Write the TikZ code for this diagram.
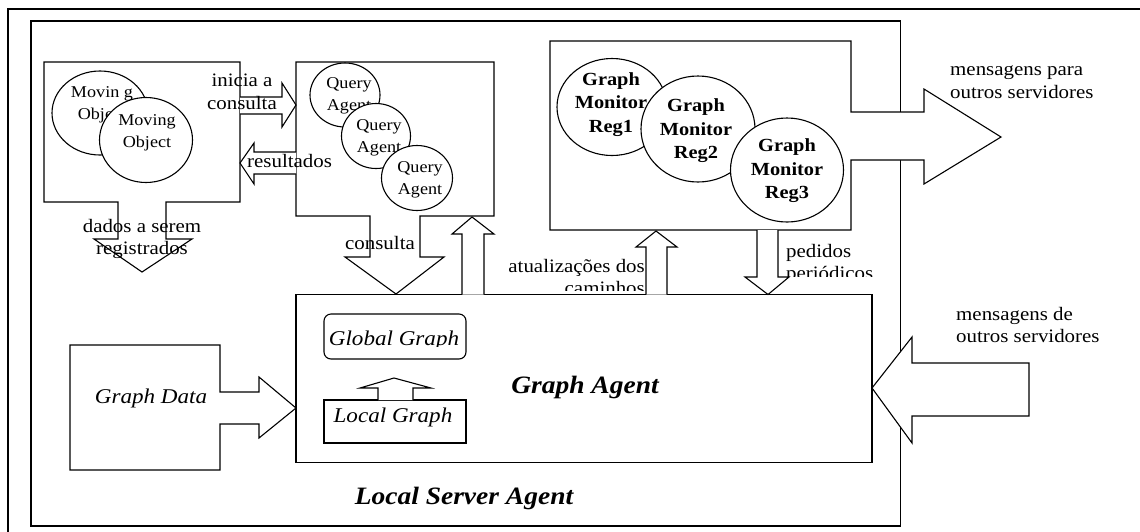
\documentclass[tikz,border=0pt]{standalone}
\usepackage{fontspec}
\setmainfont{Liberation Serif}[FakeStretch=1.1]
\usetikzlibrary{shapes.geometric}
\tikzset{
  ln/.style={line width=1.1pt, line join=miter},
  shp/.style={ln, draw=black, fill=white},
  ell/.style={shp, ellipse, inner sep=0pt},
  txt/.style={inner sep=0pt, font=\fontsize{19}{22.5}\selectfont},
  smalltxt/.style={inner sep=0pt, align=center, font=\fontsize{16.5}{22}\selectfont},
  montxt/.style={inner sep=0pt, align=center, font=\fontsize{18.5}{23.5}\selectfont\bfseries},
  ittxt/.style={inner sep=0pt, font=\fontsize{21}{25}\selectfont\itshape},
  bigtxt/.style={inner sep=0pt, font=\fontsize{25}{30}\selectfont\bfseries\itshape}
}
\begin{document}
\begin{tikzpicture}[x=1pt,y=-1pt]
\useasboundingbox (0,0) rectangle (1140,531);
% frames
\draw[ln] (8,9) rectangle (1160,550);
\draw[ln] (31,21) rectangle (900.5,526);

% moving objects box with down arrow
\draw[shp] (44,62) -- (240,62) -- (240,202) -- (166,202) -- (166,239) -- (192,239)
  -- (142,272) -- (94,239) -- (118,239) -- (118,202) -- (44,202) -- cycle;
\node[ell, minimum width=96pt, minimum height=84pt] (mo1) at (100,113) {};
\node[smalltxt] (mo1t) at (102,105) {Movin g\\Object};
\node[ell, minimum width=93pt, minimum height=85pt] (mo2) at (146,140) {};
\node[smalltxt] (mo2t) at (147,133) {Moving\\Object};

% query box with down arrow
\draw[shp] (296,62) -- (494,62) -- (494,216) -- (420,216) -- (420,257) -- (444,257)
  -- (396,294) -- (345,257) -- (370,257) -- (370,216) -- (296,216) -- cycle;
\node[ell, minimum width=70pt, minimum height=64pt] (qa1) at (345,95) {};
\node[smalltxt] (qa1t) at (349,96) {Query\\Agent};
\node[ell, minimum width=69pt, minimum height=65pt] (qa2) at (376,136) {};
\node[smalltxt] (qa2t) at (379,137.5) {Query\\Agent};
\node[ell, minimum width=71pt, minimum height=65pt] (qa3) at (417,178) {};
\node[smalltxt] (qa3t) at (420,179.5) {Query\\Agent};

% inicia a consulta arrow
\draw[shp] (240,97) -- (282,97) -- (282,83) -- (296,105) -- (282,127) -- (282,114) -- (240,114);
% resultados arrow
\draw[shp] (296,152) -- (254,152) -- (254,143) -- (240,163) -- (254,184) -- (254,174) -- (296,174);

% graph agent box
\draw[shp] (296,294.5) rectangle (872,462.5);
\node[bigtxt] (ga) at (585,387) {Graph Agent};

% up arrow graph agent -> query box
\draw[shp] (462,294.5) -- (462,234) -- (452,234) -- (472,217) -- (494,234) -- (484,234) -- (484,294.5);

% graph monitor box with outgoing arrow
\draw[shp] (550,41) -- (851,41) -- (851,112) -- (924,112) -- (924,89) -- (1001,137)
  -- (924,184) -- (924,160) -- (851,160) -- (851,230) -- (550,230) -- cycle;
\node[ell, minimum width=110pt, minimum height=97pt] (gm1) at (612,107) {};
\node[montxt] (gm1t) at (611,104.5) {Graph\\Monitor\\Reg1};
\node[ell, minimum width=114pt, minimum height=106pt] (gm2) at (698,129) {};
\node[montxt] (gm2t) at (696,131) {Graph\\Monitor\\Reg2};
\node[ell, minimum width=113pt, minimum height=104pt] (gm3) at (787,170) {};
\node[montxt] (gm3t) at (787,171) {Graph\\Monitor\\Reg3};

% atualizacoes up arrow
\draw[shp] (646,294.5) -- (646,247) -- (636,247) -- (656,231) -- (677,247) -- (667,247) -- (667,294.5);
% pedidos down arrow
\draw[shp] (757,230) -- (757,277) -- (745,277) -- (768,294.5) -- (789,277) -- (778,277) -- (778,230);

% graph data box with arrow
\draw[shp] (70,345) -- (220,345) -- (220,392) -- (259,392) -- (259,377) -- (296,408)
  -- (259,438) -- (259,424) -- (220,424) -- (220,470) -- (70,470) -- cycle;
\node[ittxt] (gd) at (151,398) {Graph Data};

% incoming arrow
\draw[shp] (872,388) -- (912,337) -- (912,363) -- (1029,363) -- (1029,416) -- (912,416) -- (912,443) -- cycle;

% global / local graph
\draw[ln, rounded corners=7pt] (324,314) rectangle (466,359);
\begin{scope}
\clip (320,310) rectangle (470,346.5);
\node[ittxt] (gg) at (394,340) {Global Graph};
\end{scope}
\draw[ln] (324,400) rectangle (466,443);
\node[ittxt] (lg) at (393,417) {Local Graph};
\draw[shp] (378,400) -- (378,388) -- (360,388) -- (394,378) -- (431,388) -- (413,388) -- (413,400);

% labels
\node[txt, align=center] (l-inicia) at (242,92) {inicia a\\consulta};
\node[txt, anchor=west] (l-result) at (247,161) {resultados};
\node[txt, align=center] (l-dados) at (142,239) {dados a serem\\registrados};
\node[txt] (l-consulta) at (380,243) {consulta};
\begin{scope}
\clip (480,240) rectangle (650,290.5);
\node[txt, align=right, anchor=east] (l-atual) at (645,277) {atualizações dos\\caminhos};
\end{scope}
\begin{scope}
\clip (780,230) rectangle (900,276);
\node[txt, align=left, anchor=west] (l-pedidos) at (786,264) {pedidos\\periódicos};
\end{scope}
\node[txt, align=left, anchor=west] (l-para) at (950,82) {mensagens para\\outros servidores};
\node[txt, align=left, anchor=west] (l-de) at (956,325) {mensagens de\\outros servidores};
\node[bigtxt] (lsa) at (464,498) {Local Server Agent};
\end{tikzpicture}
\end{document}
